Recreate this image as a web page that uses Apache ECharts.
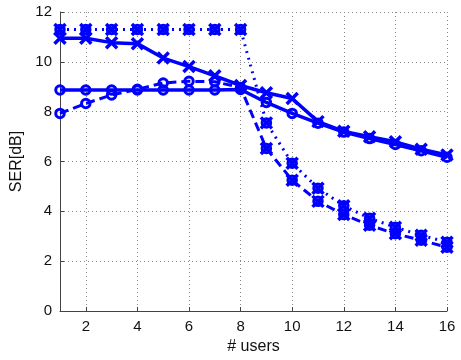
<!DOCTYPE html>
<html><head><meta charset="utf-8">
<script src="https://cdn.jsdelivr.net/npm/echarts@6/dist/echarts.min.js"></script>
<style>html,body{margin:0;padding:0;background:#fff}#c{width:461px;height:360px}</style>
</head><body><div id="c"></div>
<script>
const users = ['1','2','3','4','5','6','7','8','9','10','11','12','13','14','15','16'];
const dottedO = [11.3,11.3,11.3,11.3,11.3,11.3,11.3,11.3,7.55,5.93,4.93,4.22,3.72,3.36,3.04,2.76];
const dottedX = [11.3,11.3,11.3,11.3,11.3,11.3,11.3,11.3,7.55,5.93,4.93,4.22,3.72,3.36,3.04,2.76];
const dashedO = [7.93,8.33,8.67,8.9,9.15,9.22,9.2,8.97,6.52,5.25,4.4,3.87,3.44,3.1,2.84,2.56];
const dashedX = [null,null,null,null,null,null,null,null,6.52,5.25,4.4,3.87,3.44,3.1,2.84,2.56];
const solidO = [8.87,8.87,8.87,8.87,8.87,8.87,8.87,8.89,8.37,7.93,7.54,7.18,6.92,6.68,6.43,6.17];
const solidX = [10.95,10.95,10.77,10.73,10.15,9.81,9.44,9.05,8.76,8.53,7.6,7.21,6.99,6.79,6.49,6.26];
const yTicks = [0,2,4,6,8,10,12];

const BLUE = '#0000ff';
const XSYM = 'path://M0,0L10,10M10,0L0,10';
function mk(name, data, type, sym, lineW) {
  const isX = sym === 'x';
  return {
    name, type: 'line', data,
    symbol: isX ? XSYM : 'circle',
    symbolSize: isX ? 11 : 8.5,
    showAllSymbol: true,
    connectNulls: false,
    lineStyle: { color: BLUE, width: lineW, type: type },
    itemStyle: { color: 'rgba(0,0,0,0)', borderColor: BLUE, borderWidth: isX ? 3.5 : 3 },
    emphasis: { disabled: true },
    animation: false
  };
}
const chart = echarts.init(document.getElementById('c'), null, { renderer: 'canvas' });
const even = (i) => (i % 2 === 1);
chart.setOption({
  animation: false,
  grid: { left: 60, right: 14, top: 12, bottom: 48 },
  textStyle: { fontFamily: 'Liberation Sans, Arial, sans-serif' },
  xAxis: {
    type: 'category', data: users, boundaryGap: false,
    name: '# users', nameLocation: 'middle', nameGap: 28,
    nameTextStyle: { fontSize: 16, color: '#111', fontFamily: 'Liberation Sans' },
    axisLine: { lineStyle: { color: '#444', width: 1 } },
    axisTick: { show: true, inside: true, length: 4, interval: even, lineStyle: { color: '#444' } },
    axisLabel: { interval: even, fontSize: 15, color: '#111', margin: 8, fontFamily: 'Liberation Sans' },
    splitLine: { show: true, interval: even, lineStyle: { color: '#888', type: [1, 3], width: 1 } }
  },
  yAxis: {
    type: 'value', min: yTicks[0], max: yTicks[yTicks.length - 1], interval: 2,
    name: 'SER[dB]', nameLocation: 'middle', nameGap: 28, nameRotate: 90,
    nameTextStyle: { fontSize: 16, color: '#111', fontFamily: 'Liberation Sans' },
    axisLine: { show: true, lineStyle: { color: '#444', width: 1 } },
    axisTick: { show: true, inside: true, length: 4, lineStyle: { color: '#444' } },
    axisLabel: { fontSize: 15, color: '#111', margin: 8, fontFamily: 'Liberation Sans' },
    splitLine: { show: true, lineStyle: { color: '#888', type: [1, 3], width: 1 } }
  },
  series: [
    mk('dotted-o', dottedO, [2, 5], 'o', 3),
    mk('dotted-x', dottedX, 'solid', 'x', 0),
    mk('dashed-o', dashedO, [9, 5], 'o', 3),
    mk('dashed-x', dashedX, 'solid', 'x', 0),
    mk('solid-o', solidO, 'solid', 'o', 3.5),
    mk('solid-x', solidX, 'solid', 'x', 3.5)
  ]
});
</script></body></html>
